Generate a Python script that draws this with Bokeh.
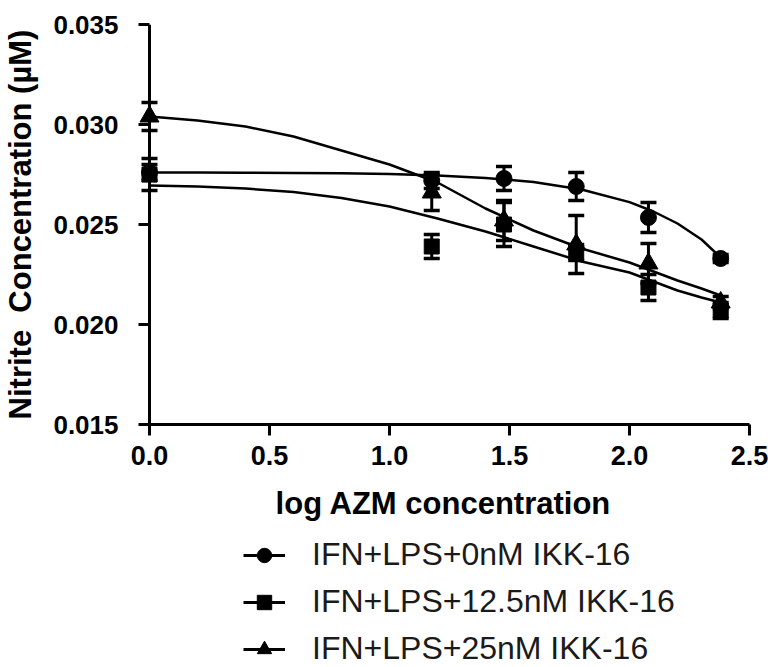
from bokeh.plotting import figure
from bokeh.layouts import column
from bokeh.models import (Range1d, FixedTicker, PrintfTickFormatter, Span,
                          Whisker, TeeHead, ColumnDataSource, Legend, LegendItem)
from bokeh.embed import file_html
from bokeh.resources import INLINE

# ---- data ----
log_conc = [0.0, 1.176, 1.477, 1.778, 2.079, 2.380]

mean_0nM = [0.0276, 0.0272, 0.0273, 0.0269, 0.02535, 0.0233]
sem_0nM = [0.0004, 0.0004, 0.0006, 0.0007, 0.00075, 0.0002]

mean_12nM = [0.0275, 0.0239, 0.0250, 0.0236, 0.02185, 0.0207]
sem_12nM = [0.0008, 0.0006, 0.0011, 0.0004, 0.00065, 0.0004]

mean_25nM = [0.0304, 0.0266, 0.0252, 0.0240, 0.02305, 0.0211]
sem_25nM = [0.0007, 0.0009, 0.0010, 0.00145, 0.0010, 0.0003]

# fitted curves
curve_x = [0.0, 0.2, 0.4, 0.6, 0.8, 1.0, 1.2, 1.4, 1.6, 1.8, 2.0, 2.1, 2.2, 2.3, 2.38]
curve_0nM = [0.02760, 0.02760, 0.02759, 0.02758, 0.02756, 0.02752, 0.02745,
             0.02733, 0.02712, 0.02675, 0.02612, 0.02565, 0.02505, 0.02425, 0.02335]
curve_12nM = [0.02695, 0.02690, 0.02680, 0.02662, 0.02632, 0.02590, 0.02530,
              0.02465, 0.02390, 0.02315, 0.02260, 0.02215, 0.02170, 0.02135, 0.02110]
curve_25nM = [0.03040, 0.03020, 0.02990, 0.02940, 0.02870, 0.02800, 0.02710,
              0.02580, 0.02470, 0.02380, 0.02310, 0.02265, 0.02220, 0.02180, 0.02145]

series_labels = ["IFN+LPS+0nM IKK-16", "IFN+LPS+12.5nM IKK-16", "IFN+LPS+25nM IKK-16"]
x_ticks = [0.0, 0.5, 1.0, 1.5, 2.0, 2.5]
y_ticks = [0.015, 0.020, 0.025, 0.030, 0.035]
x_title = "log AZM concentration"
y_title = "Nitrite\u00a0 Concentration (\u00b5M)"

FONT = "Liberation Sans"
X_PAD = 0.1  # a little room left of x = 0 so the x = 0 markers are not clipped

p = figure(frame_width=636, frame_height=400,
           x_range=Range1d(x_ticks[0] - X_PAD, 2.55),
           y_range=Range1d(y_ticks[0], y_ticks[-1]),
           output_backend="svg", toolbar_location=None,
           min_border_left=121, min_border_right=11,
           min_border_top=24, min_border_bottom=106)
p.outline_line_color = None
p.xgrid.visible = False
p.ygrid.visible = False

xaxis = p.xaxis[0]
yaxis = p.yaxis[0]

xaxis.ticker = FixedTicker(ticks=x_ticks)
xaxis.formatter = PrintfTickFormatter(format="%.1f")
xaxis.bounds = (x_ticks[0], x_ticks[-1])
xaxis.axis_label = x_title

yaxis.ticker = FixedTicker(ticks=y_ticks)
yaxis.formatter = PrintfTickFormatter(format="%.3f")
yaxis.axis_label = y_title

for ax in (xaxis, yaxis):
    ax.axis_line_width = 3
    ax.axis_line_color = "black"
    ax.major_tick_line_width = 3
    ax.major_tick_line_color = "black"
    ax.minor_tick_out = 0
    ax.minor_tick_in = 0
    ax.major_label_text_font = FONT
    ax.major_label_text_font_size = "27px"
    ax.major_label_text_font_style = "bold"
    ax.major_label_text_color = "black"
    ax.axis_label_text_font = FONT
    ax.axis_label_text_font_size = "31px"
    ax.axis_label_text_font_style = "bold"
    ax.axis_label_text_color = "black"

yaxis.major_label_text_font_size = "26px"

xaxis.major_tick_out = 11
xaxis.major_tick_in = 0
xaxis.major_label_standoff = 10
xaxis.axis_label_standoff = 18

# the y axis sits at the frame's left edge (x = -0.1); its ticks are shifted
# in so that they meet x = 0, where the axis line is drawn as a span
yaxis.axis_line_color = None
yaxis.major_tick_in = 24
yaxis.major_tick_out = -13
yaxis.major_label_standoff = 7
yaxis.axis_label_standoff = 12
p.add_layout(Span(location=x_ticks[0], dimension="height",
                  line_width=3, line_color="black"))

series = [
    (mean_0nM, sem_0nM, curve_0nM, "circle", 16),
    (mean_12nM, sem_12nM, curve_12nM, "square", 15),
    (mean_25nM, sem_25nM, curve_25nM, "triangle", 19),
]

# legend lives in its own strip under the chart
pl = figure(frame_width=636, frame_height=137,
            x_range=Range1d(0, 1), y_range=Range1d(0, 1),
            output_backend="svg", toolbar_location=None,
            x_axis_location=None, y_axis_location=None,
            min_border_left=121, min_border_right=11,
            min_border_top=0, min_border_bottom=0)
pl.outline_line_color = None
pl.xgrid.visible = False
pl.ygrid.visible = False

nan = float("nan")
items = []
for (mean, sem, curve, marker, size), label in zip(series, series_labels):
    p.line(curve_x, curve, line_width=2.5, line_color="black")
    src = ColumnDataSource(dict(
        x=log_conc, y=mean,
        upper=[m + s for m, s in zip(mean, sem)],
        lower=[m - s for m, s in zip(mean, sem)],
    ))
    w = Whisker(source=src, base="x", upper="upper", lower="lower",
                line_width=3, line_color="black",
                upper_head=TeeHead(size=16, line_width=3.5, line_color="black"),
                lower_head=TeeHead(size=16, line_width=3.5, line_color="black"))
    p.add_layout(w)
    p.scatter("x", "y", source=src, marker=marker, size=size,
              fill_color="black", line_color="black")
    # legend proxies (nothing visible is drawn, only their style in the legend)
    lr = pl.line(x=[nan], y=[nan], line_width=3, line_color="black")
    sr = pl.scatter(x=[nan], y=[nan], marker=marker, size=size,
                    fill_color="black", line_color="black")
    items.append(LegendItem(label=label, renderers=[lr, sr]))

legend = Legend(items=items, location=(118, 0), orientation="vertical",
                glyph_width=42, glyph_height=36, label_height=36,
                label_standoff=27, spacing=10, padding=0, margin=0,
                label_text_font=FONT, label_text_font_size="32px",
                label_text_color="#1a1a1a",
                border_line_alpha=0, background_fill_alpha=0)
pl.add_layout(legend, "center")

layout = column(p, pl, spacing=0)
open("out.html", "w").write(file_html(layout, INLINE))
